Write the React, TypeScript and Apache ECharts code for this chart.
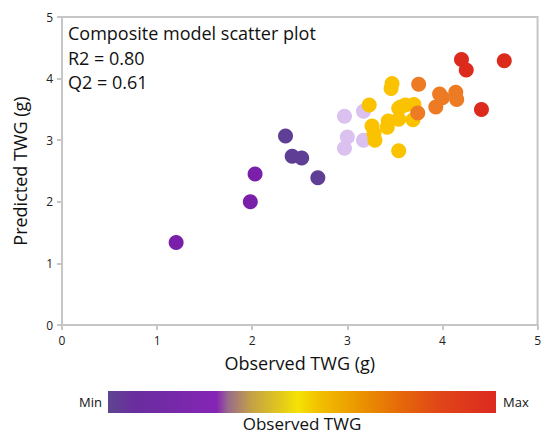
import React, { useEffect, useRef } from "react";
import * as echarts from "echarts";

const xTicks = [0, 1, 2, 3, 4, 5];
const yTicks = [0, 1, 2, 3, 4, 5];

const purplePts = [[1.2, 1.34], [1.98, 2.0], [2.03, 2.45]];
const darkPurplePts = [[2.35, 3.07], [2.42, 2.74], [2.52, 2.71], [2.69, 2.39]];
const lavenderPts = [[2.97, 3.39], [3.0, 3.05], [2.97, 2.87], [3.17, 3.47], [3.17, 3.0]];
const yellowPts = [
  [3.23, 3.57], [3.26, 3.23], [3.28, 3.11], [3.29, 3.0], [3.47, 3.92], [3.46, 3.84],
  [3.42, 3.21], [3.43, 3.31], [3.54, 2.83], [3.54, 3.52], [3.54, 3.34], [3.56, 3.54],
  [3.61, 3.57], [3.69, 3.33], [3.7, 3.58],
];
const orangePts = [[3.75, 3.91], [3.74, 3.44], [3.97, 3.75], [3.93, 3.54], [4.0, 3.69], [4.14, 3.78], [4.15, 3.66]];
const redPts = [[4.2, 4.31], [4.25, 4.14], [4.65, 4.29], [4.41, 3.5]];

const groups = [
  { name: "purple", data: purplePts, color: "#7a1fa9" },
  { name: "darkPurple", data: darkPurplePts, color: "#5e3f95" },
  { name: "lavender", data: lavenderPts, color: "#dbc1ef" },
  { name: "yellow", data: yellowPts, color: "#fbc200" },
  { name: "orange", data: orangePts, color: "#ec7b24" },
  { name: "red", data: redPts, color: "#dc2a1d" },
];

const titleLines = ["Composite model scatter plot", "R2 = 0.80", "Q2 = 0.61"];
const FONT = "'Open Sans', sans-serif";

export default function App() {
  const ref = useRef<HTMLDivElement>(null);
  useEffect(() => {
    if (!ref.current) return;
    const chart = echarts.init(ref.current, undefined, { renderer: "svg" });
    const axisCommon = {
      type: "value",
      min: xTicks[0],
      max: xTicks[xTicks.length - 1],
      interval: 1,
      axisLine: { show: true, lineStyle: { color: "#c6c6c6", width: 2 } },
      axisTick: { show: true, inside: false, length: 5, lineStyle: { color: "#c6c6c6", width: 2 } },
      splitLine: { show: false },
      axisLabel: { color: "#222", fontSize: 12, fontFamily: FONT, margin: 9 },
      nameLocation: "middle",
      nameTextStyle: { color: "#111", fontSize: 18, fontFamily: FONT },
    };
    chart.setOption({
      animation: false,
      textStyle: { fontFamily: FONT },
      grid: {
        left: 62, top: 17, right: 2, bottom: 110,
        show: true, borderColor: "#c6c6c6", borderWidth: 2,
      },
      xAxis: { ...axisCommon, name: "Observed TWG (g)", nameGap: 29 },
      yAxis: { ...axisCommon, min: yTicks[0], max: yTicks[yTicks.length - 1], name: "Predicted TWG (g)", nameGap: 33 },
      series: groups.map((g) => ({
        type: "scatter",
        name: g.name,
        data: g.data,
        symbolSize: 15,
        itemStyle: { color: g.color, opacity: 1 },
      })),
      graphic: [
        ...titleLines.map((t, i) => ({
          type: "text",
          x: 68,
          y: 33 + i * 24.5,
          style: { text: t, fill: "#111", fontSize: 18, fontFamily: FONT, verticalAlign: "middle", align: "left" },
        })),
        {
          type: "rect",
          shape: { x: 108, y: 391, width: 388, height: 22 },
          style: {
            fill: new echarts.graphic.LinearGradient(0, 0, 1, 0, [
              { offset: 0, color: "#5e4690" },
              { offset: 0.07, color: "#6a2d9f" },
              { offset: 0.28, color: "#8525b5" },
              { offset: 0.31, color: "#9a6b8a" },
              { offset: 0.37, color: "#c4a145" },
              { offset: 0.45, color: "#e4cc18" },
              { offset: 0.49, color: "#f5e305" },
              { offset: 0.54, color: "#f2c200" },
              { offset: 0.66, color: "#ea9000" },
              { offset: 0.75, color: "#e66a08" },
              { offset: 0.86, color: "#e04418" },
              { offset: 1, color: "#dc2a20" },
            ]),
          },
        },
        {
          type: "text", x: 102, y: 402,
          style: { text: "Min", fill: "#111", fontSize: 13, fontFamily: FONT, align: "right", verticalAlign: "middle" },
        },
        {
          type: "text", x: 503, y: 402,
          style: { text: "Max", fill: "#111", fontSize: 13, fontFamily: FONT, align: "left", verticalAlign: "middle" },
        },
        {
          type: "text", x: 302, y: 423,
          style: { text: "Observed TWG", fill: "#111", fontSize: 17, fontFamily: FONT, align: "center", verticalAlign: "middle" },
        },
      ],
    });
    return () => chart.dispose();
  }, []);
  return <div ref={ref} style={{ width: 544, height: 435, position: "absolute", left: 0, top: 0 }} />;
}
